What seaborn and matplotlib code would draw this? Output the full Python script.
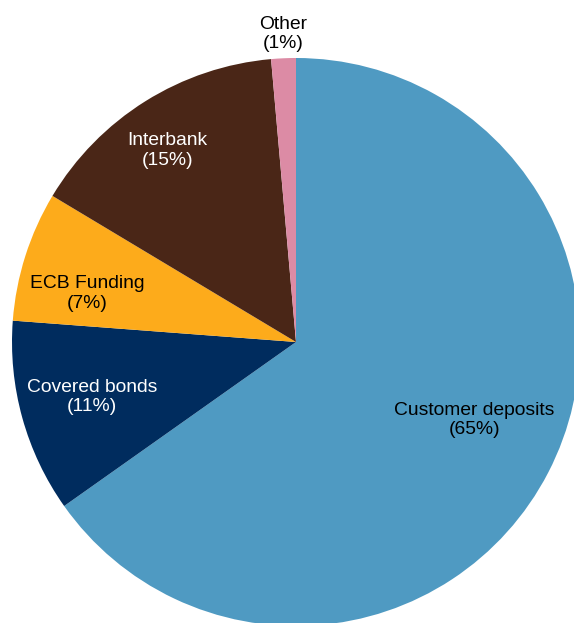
import matplotlib
matplotlib.use("Agg")
import matplotlib.pyplot as plt
import seaborn as sns

# Funding mix, share of total (%)
categories = ["Customer deposits", "Covered bonds", "ECB Funding", "Interbank", "Other"]
shares = [65.2, 11.0, 7.4, 15.0, 1.4]

# Styling
slice_colors = ["#4F9AC2", "#002C5E", "#FDAB1B", "#4A2617", "#DC8BA5"]
text_colors = ["black", "white", "black", "white", "black"]
# label anchors in units of the pie radius
label_xy = [(0.627, -0.275), (-0.718, -0.194), (-0.734, 0.171),
            (-0.452, 0.674), (-0.046, 1.085)]

sns.set_theme(style="white")
plt.rcParams["font.family"] = ["Liberation Sans", "DejaVu Sans"]

W, H = 574, 623
fig = plt.figure(figsize=(W / 100, H / 100), dpi=100)
cx, cy, r = 296, 623 - 342, 284
ax = fig.add_axes([(cx - r) / W, (cy - r) / H, 2 * r / W, 2 * r / H])

ax.pie(shares, colors=slice_colors, startangle=90, counterclock=False,
       radius=1.0, wedgeprops=dict(linewidth=0, antialiased=True))
ax.set_xlim(-1, 1)
ax.set_ylim(-1, 1)
ax.set_aspect("equal")
ax.axis("off")

for name, val, (lx, ly), tc in zip(categories, shares, label_xy, text_colors):
    ax.text(lx, ly, f"{name}\n({round(val):d}%)", ha="center", va="center",
            multialignment="center", fontsize=13.9, color=tc, linespacing=1.18,
            clip_on=False)

fig.savefig("out.png", dpi=100)
